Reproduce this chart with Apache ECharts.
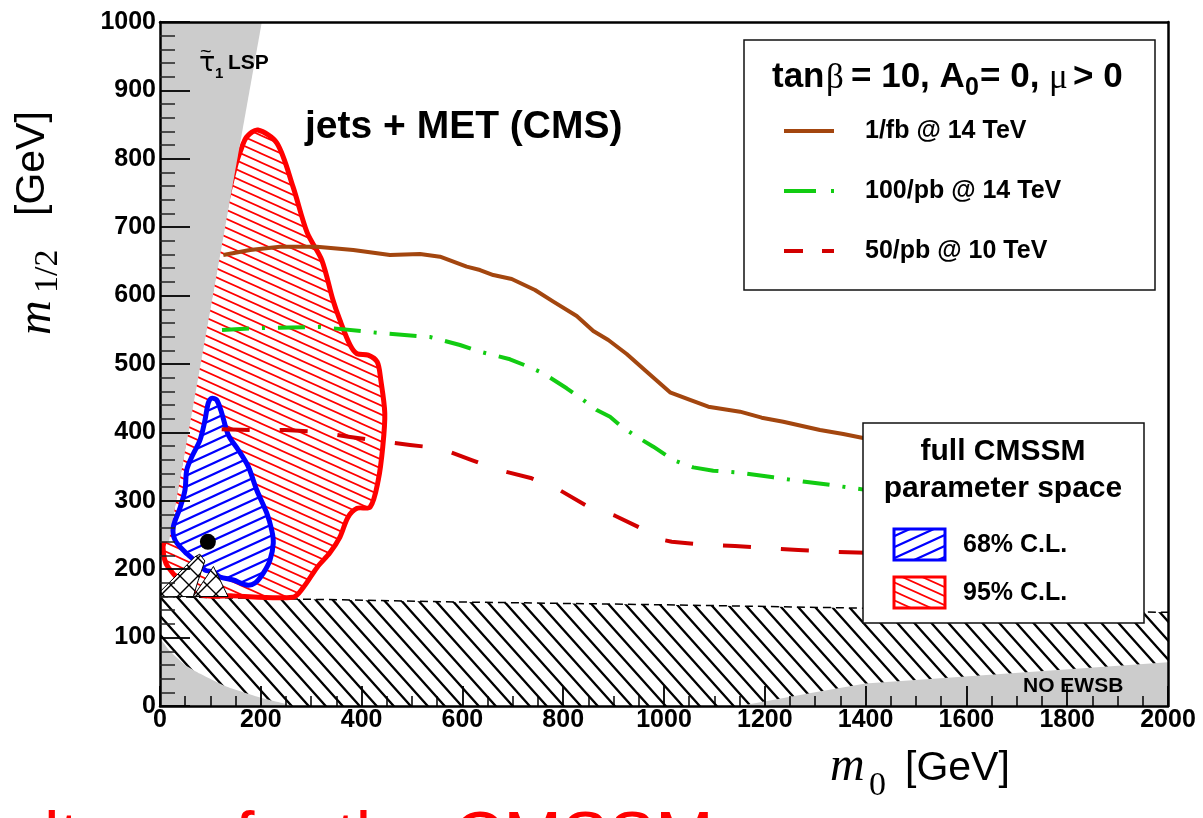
<!DOCTYPE html>
<html>
<head>
<meta charset="utf-8">
<script src="https://cdn.jsdelivr.net/npm/echarts@6.0.0/dist/echarts.min.js"></script>
<style>
html,body{margin:0;padding:0;background:#fff;}
#chart{width:1203px;height:818px;}
</style>
</head>
<body>
<div id="chart"></div>
<script>
// ---------------- data (m0 [GeV], m1/2 [GeV]) ----------------
const X_RANGE = [0, 2000];
const Y_RANGE = [0, 1000];

// stau LSP excluded region (upper left, grey)
const LSP_REGION = [[0,1000],[202,1000],[17.6,240],[0,240]];
// low-m region bottom-left (grey)
const LOWLEFT_REGION = [[0,0],[0,97],[20,80],[50,60],[80,47],[133,28],[200,12],[260,0]];
// NO EWSB region bottom-right (grey)
const NOEWSB_REGION = [[1150,0],[1300,20],[1400,33],[2000,64],[2000,0]];
// LEP-excluded hatched band
const HATCH_TOP = [[0,160],[600,152],[1000,148],[1400,143],[2000,137]];
const HATCH_REGION = [[0,0]].concat(HATCH_TOP).concat([[2000,0]]);
// cross-hatched lobes
const LOBE_A = [[0,160],[0,167],[33,191],[69,218],[79,222],[89,212],[76,184],[66,160]];
const LOBE_B = [[66,160],[106,204],[135,160]];

// 95% C.L. contour
const CL95 = [[194,842],[232,823],[264,759],[292,692],[321,652],[343,594],[357,564],[377,528],
  [391,515],[413,513],[431,503],[438,477],[446,428],[442,379],[433,330],[417,291],[391,289],
  [373,276],[357,247],[337,224],[312,203],[284,173],[264,159],[145,161],[73,164],[16,203],
  [6,232],[14,250],[28,306],[40,355],[68,477],[100,604],[128,721],[150,790],[160,812],[172,832]];
// 68% C.L. contour
const CL68 = [[102.6,449.9],[112.5,447.4],[122.4,428.4],[135.5,396.2],[155.4,374.3],[175.2,349.9],
  [191.9,315.8],[211.7,282.2],[221.6,257.3],[224.8,238.3],[218.3,213.5],[205,194.4],[188.5,179.8],
  [172,176.9],[145.4,184.2],[119,188.6],[105.8,195.9],[89.3,198.8],[72.8,210.5],[49.6,225.1],
  [29.8,242.7],[26.4,261.7],[39.7,289.5],[49.6,315.8],[53,345],[62.9,364],[79.4,388.9],
  [89.3,418.1],[95.8,443]];
// best fit point
const BEST_FIT = [[95,240]];

// reach curves
const REACH_1FB_14TEV = [[125.6,659.4],[178.6,666.7],[238.1,671.5],[310.9,671.5],[383.5,666.7],
  [456.3,659.4],[515.9,660.8],[555.6,656.9],[608.5,642.3],[634.9,637.4],[661.3,630.1],[697.8,624.3],
  [744,608.2],[780.4,591.1],[826.8,570.2],[859.7,548.2],[889.5,535.1],[926,514.6],[965.7,488.7],
  [1011.9,458.6],[1051.6,447.4],[1087.9,437.6],[1150.8,430.3],[1193.8,421.5],[1236.7,415.6],
  [1309.5,403.5],[1355.7,397.7],[1400,391]];
const REACH_100PB_14TEV = [[123,549.7],[198.4,552.6],[317.5,554.1],[436.5,545.3],[535.7,539.5],
  [595.2,527.8],[634.9,518],[694.4,506.9],[727.6,497.1],[760.5,486.4],[806.9,464.5],[839.9,447.4],
  [866.5,432.7],[892.9,422.9],[916.1,408.3],[945.8,393.7],[978.8,379.1],[1018.5,359.6],
  [1058.1,348.9],[1097.8,344],[1150.8,341],[1216.9,334.3],[1279.8,327.9],[1316.1,324.6],[1400,316]];
const REACH_50PB_10TEV = [[122.4,404.5],[185.1,403.5],[248,403.5],[307.5,401],[373.6,393.7],
  [430,387.9],[496,381.6],[555.6,376.8],[618.4,359.6],[668,346],[737.5,332.9],[790.3,316.8],
  [849.8,291.4],[902.8,278.2],[965.7,255.8],[992.1,243.7],[1015.3,240.2],[1084.7,235.4],
  [1140.9,233.9],[1210.3,230.6],[1266.5,228.1],[1335.9,225.6],[1400,224]];

const LEGEND_LINES = ['1/fb @ 14 TeV', '100/pb @ 14 TeV', '50/pb @ 10 TeV'];
const LEGEND_CL = ['68% C.L.', '95% C.L.'];

// ---------------- styles ----------------
const C_BROWN = '#a3460f', C_GREEN = '#12cc12', C_RDASH = '#d20000';
const C_RED = '#ff0000', C_BLUE = '#0000ff', C_GRAY = '#cccccc';
const SANS = '"Liberation Sans", Arial, Helvetica, sans-serif';
const SERIF = '"Liberation Serif", "DejaVu Serif", serif';

function tile(w, h, color, lw, dirs, bg) {
  const c = document.createElement('canvas');
  c.width = w; c.height = h;
  const g = c.getContext('2d');
  if (bg) { g.fillStyle = bg; g.fillRect(0, 0, w, h); }
  g.strokeStyle = color; g.lineWidth = lw; g.lineCap = 'butt';
  g.beginPath();
  dirs.forEach(d => {
    for (let k = -1; k <= 1; k++) {
      if (d === 'back') { g.moveTo(k*w - 0.5*w, -0.5*h); g.lineTo(k*w + 1.5*w, 1.5*h); }
      else { g.moveTo(k*w - 0.5*w, 1.5*h); g.lineTo(k*w + 1.5*w, -0.5*h); }
    }
  });
  g.stroke();
  return { image: c, repeat: 'repeat' };
}
const PAT_BLACK = tile(17, 19, '#000', 2.3, ['back'], null);
const PAT_RED = tile(20, 9, C_RED, 1.7, ['back'], null);
const PAT_BLUE = tile(24, 11, C_BLUE, 2.2, ['fwd'], '#fff');
const PAT_CROSS = tile(18, 18, '#000', 1.4, ['back', 'fwd'], '#fff');
const PAT_RED_BOX = tile(20, 9, C_RED, 1.7, ['back'], '#fff');

function polySeries(name, pts, style, z, smooth) {
  return {
    type: 'custom', name: name, data: pts, z: z, clip: true, silent: true,
    encode: { x: 0, y: 1 },
    renderItem: function (params, api) {
      if (params.dataIndex !== 0) return null;
      return {
        type: 'polygon',
        shape: { points: pts.map(p => api.coord(p)), smooth: smooth || 0 },
        style: style
      };
    }
  };
}
function lineSeries(name, data, color, type, width, z) {
  return {
    type: 'line', name: name, data: data, z: z, symbol: 'none', showSymbol: false,
    silent: true, smooth: false, clip: true,
    lineStyle: { color: color, width: width, type: type, cap: 'butt', join: 'round' }
  };
}
function txt(text, x, y, font, color, align, extra) {
  const o = {
    type: 'text', z: 120, silent: true, x: x, y: y,
    style: { text: text, x: 0, y: 0, font: font, fill: color || '#000',
      align: align || 'left', verticalAlign: 'middle',
      textAlign: align || 'left', textVerticalAlign: 'middle' }
  };
  if (extra) Object.assign(o, extra);
  return o;
}
function seg(x1, y1, x2, y2, color, w) {
  return { type: 'line', z: 120, silent: true, shape: { x1: x1, y1: y1, x2: x2, y2: y2 },
    style: { stroke: color, lineWidth: w, lineCap: 'butt' } };
}

const axisCommon = {
  type: 'value', z: 8,
  axisLine: { show: true, onZero: false, lineStyle: { color: '#000', width: 2.5 } },
  splitLine: { show: false }, minorSplitLine: { show: false }
};
const plainNum = v => String(v);

const ROT = Math.PI / 2;

const option = {
  animation: false,
  backgroundColor: '#fff',
  grid: { left: 160, right: 35, top: 22, bottom: 112, containLabel: false },
  xAxis: [
    Object.assign({}, axisCommon, {
      min: X_RANGE[0], max: X_RANGE[1], interval: 200, position: 'bottom',
      axisTick: { show: true, inside: true, length: 20, lineStyle: { color: '#000', width: 1.8 } },
      minorTick: { show: true, splitNumber: 4, length: 10, lineStyle: { color: '#000', width: 1.5 } },
      axisLabel: { show: true, fontFamily: SANS, fontWeight: 'bold', fontSize: 25, color: '#000',
        margin: 2, lineHeight: 25, showMinLabel: true, showMaxLabel: true, formatter: plainNum }
    }),
    Object.assign({}, axisCommon, {
      min: X_RANGE[0], max: X_RANGE[1], position: 'top',
      axisTick: { show: false }, minorTick: { show: false }, axisLabel: { show: false }
    })
  ],
  yAxis: [
    Object.assign({}, axisCommon, {
      min: Y_RANGE[0], max: Y_RANGE[1], interval: 100, position: 'left',
      axisTick: { show: true, inside: true, length: 30, lineStyle: { color: '#000', width: 1.8 } },
      minorTick: { show: true, splitNumber: 5, length: 15, lineStyle: { color: '#222', width: 1.5 } },
      axisLabel: { show: true, fontFamily: SANS, fontWeight: 'bold', fontSize: 25, color: '#000',
        margin: 4, showMinLabel: true, showMaxLabel: true, formatter: plainNum }
    }),
    Object.assign({}, axisCommon, {
      min: Y_RANGE[0], max: Y_RANGE[1], position: 'right',
      axisTick: { show: false }, minorTick: { show: false }, axisLabel: { show: false }
    })
  ],
  series: [
    polySeries('LEP hatch', HATCH_REGION, { fill: PAT_BLACK }, 1),
    lineSeries('LEP edge', HATCH_TOP, '#000', [8, 5], 1.5, 1),
    polySeries('95% C.L.', CL95, { fill: PAT_RED, stroke: C_RED, lineWidth: 5, lineJoin: 'round' }, 2, 0.3),
    polySeries('stau LSP', LSP_REGION, { fill: C_GRAY }, 3),
    polySeries('low corner', LOWLEFT_REGION, { fill: C_GRAY }, 3, 0.2),
    polySeries('NO EWSB', NOEWSB_REGION, { fill: C_GRAY }, 3),
    polySeries('68% C.L.', CL68, { fill: PAT_BLUE, stroke: C_BLUE, lineWidth: 5, lineJoin: 'round' }, 4, 0.3),
    polySeries('lobe A', LOBE_A, { fill: PAT_CROSS, stroke: '#000', lineWidth: 1 }, 5),
    polySeries('lobe B', LOBE_B, { fill: PAT_CROSS, stroke: '#000', lineWidth: 1 }, 5),
    { type: 'scatter', name: 'best fit', data: BEST_FIT, z: 6, symbol: 'circle', symbolSize: 16,
      silent: true, itemStyle: { color: '#000', opacity: 1 } },
    lineSeries(LEGEND_LINES[0], REACH_1FB_14TEV, C_BROWN, 'solid', 4, 7),
    lineSeries(LEGEND_LINES[1], REACH_100PB_14TEV, C_GREEN, [27, 13, 3, 13], 4, 7),
    lineSeries(LEGEND_LINES[2], REACH_50PB_10TEV, C_RDASH, [28, 30], 4, 7)
  ],
  graphic: [
    // region labels
    txt('jets + MET (CMS)', 305, 127, 'bold 39px ' + SANS),
    txt('~', 200, 52, '20px ' + SANS),
    txt('τ', 199, 64, '27px "DejaVu Sans", sans-serif'),
    txt('1', 215, 74, 'bold 15px ' + SANS),
    txt('LSP', 228, 63, 'bold 21px ' + SANS),
    txt('NO EWSB', 1023, 686, 'bold 21px ' + SANS),
    // axis titles
    txt('m', 37, 335, 'italic 48px ' + SERIF, '#000', 'left', { rotation: ROT }),
    txt('1/2', 48, 293, '34px ' + SERIF, '#000', 'left', { rotation: ROT }),
    txt('[GeV]', 33, 216, '41px ' + SANS, '#000', 'left', { rotation: ROT }),
    txt('m', 830, 767, 'italic 48px ' + SERIF),
    txt('0', 869, 786, '34px ' + SERIF),
    txt('[GeV]', 905, 769, '41px ' + SANS),
    // bottom caption (cut off by the page edge)
    txt('Results', 114, 842, '70px ' + SANS, '#ff0000', 'right'),
    txt('for the CMSSM', 235, 842, '70px ' + SANS, '#ff0000', 'left'),
    // legend box 1
    { type: 'rect', z: 110, silent: true, shape: { x: 744, y: 40, width: 411, height: 250 },
      style: { fill: '#fff', stroke: '#111', lineWidth: 1.5 } },
    txt('tan', 772, 77, 'bold 35px ' + SANS),
    txt('β', 826, 79, '35px ' + SERIF),
    txt('= 10, A', 851, 77, 'bold 35px ' + SANS),
    txt('0', 965, 88, 'bold 25px ' + SANS),
    txt('= 0,', 980, 77, 'bold 35px ' + SANS),
    txt('μ', 1049, 79, '35px ' + SERIF),
    txt('> 0', 1073, 77, 'bold 35px ' + SANS),
    seg(784, 131, 834, 131, C_BROWN, 4),
    seg(784, 191, 816, 191, C_GREEN, 4),
    seg(831, 191, 834, 191, C_GREEN, 4),
    seg(784, 251, 803, 251, C_RDASH, 4),
    seg(822, 251, 834, 251, C_RDASH, 4),
    txt(LEGEND_LINES[0], 865, 131, 'bold 25px ' + SANS),
    txt(LEGEND_LINES[1], 865, 191, 'bold 25px ' + SANS),
    txt(LEGEND_LINES[2], 865, 251, 'bold 25px ' + SANS),
    // legend box 2
    { type: 'rect', z: 110, silent: true, shape: { x: 863, y: 423, width: 281, height: 200 },
      style: { fill: '#fff', stroke: '#111', lineWidth: 1.5 } },
    txt('full CMSSM', 1003, 452, 'bold 30px ' + SANS, '#000', 'center'),
    txt('parameter space', 1003, 489, 'bold 30px ' + SANS, '#000', 'center'),
    { type: 'rect', z: 120, silent: true, shape: { x: 894, y: 529, width: 51, height: 31 },
      style: { fill: PAT_BLUE, stroke: C_BLUE, lineWidth: 3 } },
    { type: 'rect', z: 120, silent: true, shape: { x: 894, y: 577, width: 51, height: 31 },
      style: { fill: PAT_RED_BOX, stroke: C_RED, lineWidth: 3 } },
    txt(LEGEND_CL[0], 963, 545, 'bold 25px ' + SANS),
    txt(LEGEND_CL[1], 963, 593, 'bold 25px ' + SANS)
  ]
};

const chart = echarts.init(document.getElementById('chart'), null, { renderer: 'canvas' });
chart.setOption(option);
</script>
</body>
</html>
